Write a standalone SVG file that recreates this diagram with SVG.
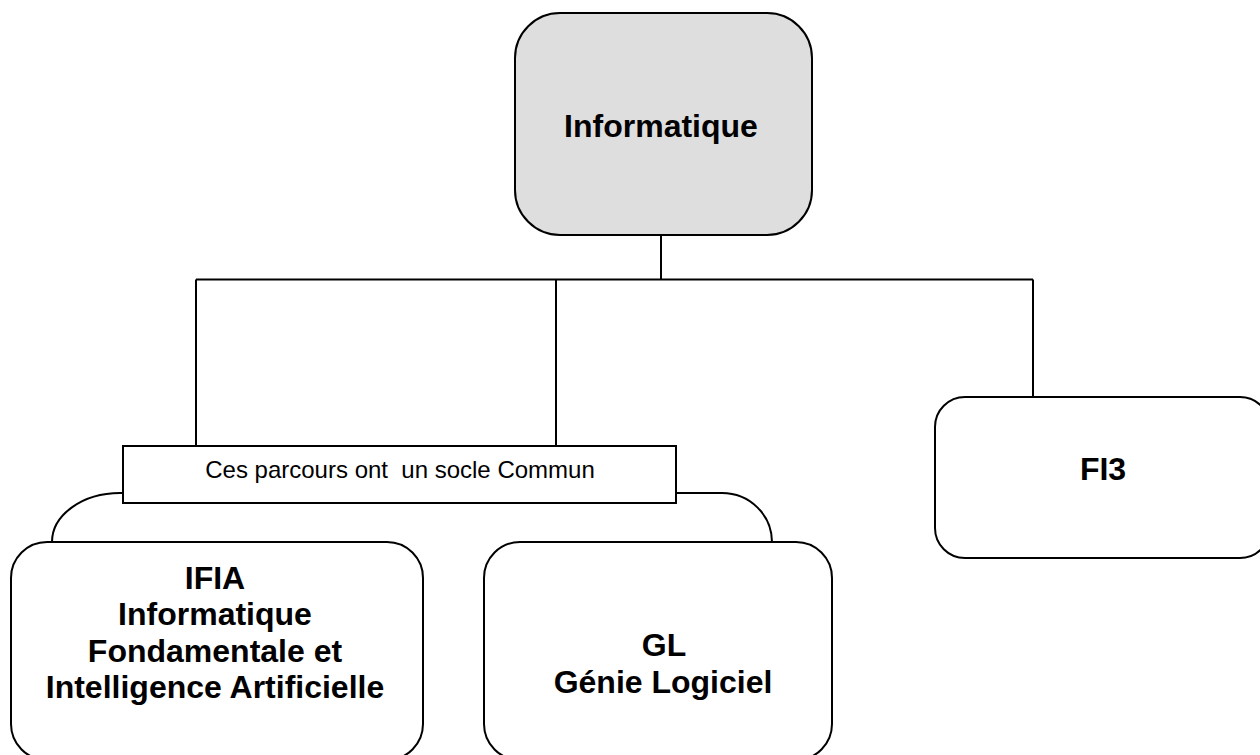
<svg xmlns="http://www.w3.org/2000/svg" width="1260" height="755" viewBox="0 0 1260 755">
  <style>
    .box { fill: #ffffff; stroke: #000000; stroke-width: 2; }
    .root { fill: #dedede; stroke: #000000; stroke-width: 2; }
    .conn { fill: none; stroke: #000000; stroke-width: 2; }
    .title { font-family: "Liberation Sans", Arial, sans-serif; font-weight: bold; font-size: 32px; fill: #000000; text-anchor: middle; }
    .note { font-family: "Liberation Sans", Arial, sans-serif; font-size: 24px; fill: #000000; text-anchor: middle; white-space: pre; }
  </style>
  <rect width="1260" height="755" fill="#ffffff"/>

  <g id="connectors">
    <path class="conn" d="M661,235 V279.5"/>
    <path class="conn" d="M196,279.5 H1033"/>
    <path class="conn" d="M196,279.5 V446"/>
    <path class="conn" d="M556,279.5 V446"/>
    <path class="conn" d="M1033,279.5 V397"/>
    <path class="conn" d="M123,493 H120 A68,49 0 0 0 52,542"/>
    <path class="conn" d="M676,493 H722 A50,49 0 0 1 772,542"/>
  </g>

  <g id="node-informatique">
    <rect class="root" x="515" y="13" width="297" height="222" rx="45" ry="45"/>
    <text class="title" x="661" y="137">Informatique</text>
  </g>

  <g id="node-socle">
    <rect class="box" x="123" y="446" width="553" height="57"/>
    <text class="note" x="400" y="478" xml:space="preserve">Ces parcours ont  un socle Commun</text>
  </g>

  <g id="node-ifia">
    <rect class="box" x="11" y="542" width="412" height="218" rx="36" ry="36"/>
    <text class="title" x="215" y="589">IFIA</text>
    <text class="title" x="215" y="625">Informatique</text>
    <text class="title" x="215" y="662">Fondamentale et</text>
    <text class="title" x="215" y="698">Intelligence Artificielle</text>
  </g>

  <g id="node-gl">
    <rect class="box" x="484" y="542" width="348" height="218" rx="36" ry="36"/>
    <text class="title" x="664" y="656">GL</text>
    <text class="title" x="663" y="693">Génie Logiciel</text>
  </g>

  <g id="node-fi3">
    <rect class="box" x="935" y="397" width="335" height="161" rx="30" ry="30"/>
    <text class="title" x="1103" y="480">FI3</text>
  </g>
</svg>
